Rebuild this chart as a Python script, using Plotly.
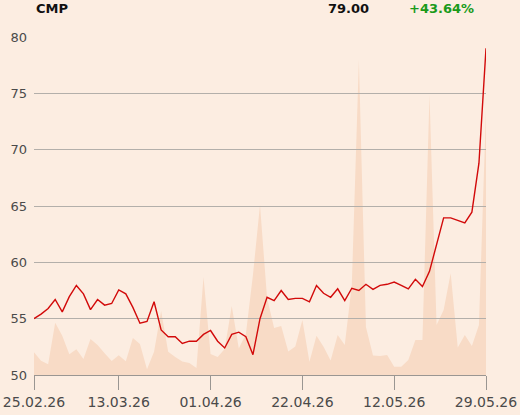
import pandas as pd
import plotly.graph_objects as go

# trading days 25.02.26 - 29.05.26 (no session on Good Friday, Easter Monday, 1 May)
holidays = ["2026-04-03", "2026-04-06", "2026-05-01"]
days = pd.bdate_range("2026-02-25", "2026-05-29")
days = days[~days.isin(pd.to_datetime(holidays))]
dates = [d.strftime("%d.%m.%y") for d in days]

price = [
    55.0, 55.4, 55.9, 56.7, 55.6, 56.95, 57.95, 57.2, 55.8, 56.7,
    56.2, 56.35, 57.55, 57.2, 56.0, 54.6, 54.75, 56.5, 54.0, 53.4,
    53.4, 52.8, 53.0, 53.0, 53.6, 53.95, 53.0, 52.4, 53.6, 53.8,
    53.4, 51.8, 55.0, 56.9, 56.6, 57.5, 56.7, 56.8, 56.8, 56.5,
    57.95, 57.25, 56.9, 57.65, 56.6, 57.7, 57.5, 58.05, 57.6, 57.95,
    58.05, 58.25, 57.95, 57.65, 58.5, 57.85, 59.2, 61.7, 63.95, 63.95,
    63.75, 63.5, 64.45, 68.8, 79.0,
]

# volume, thousand shares
volume = [
    22.7, 14.3, 10.7, 52.3, 39.3, 20.7, 25.7, 16.0, 36.0, 30.0,
    21.7, 14.0, 19.7, 13.7, 37.0, 31.0, 5.7, 23.3, 64.0, 23.3,
    18.0, 13.5, 12.0, 7.0, 98.0, 21.0, 18.0, 26.0, 69.0, 26.5,
    41.0, 100.0, 170.0, 77.0, 47.0, 49.0, 23.5, 28.5, 55.0, 13.3,
    39.3, 28.3, 14.5, 40.0, 30.0, 90.0, 315.0, 48.0, 19.5, 19.0,
    20.0, 8.3, 8.3, 15.0, 35.0, 35.0, 280.0, 50.0, 65.0, 101.7,
    27.5, 40.0, 29.0, 50.0, 265.0,
]

tick_dates = ["25.02.26", "13.03.26", "01.04.26", "22.04.26", "12.05.26", "29.05.26"]

name = "CMP"
last = price[-1]
change = (price[-1] / price[0] - 1) * 100

bg = "#fcede1"
grey = "#b3afaa"
font = "DejaVu Sans"

fig = go.Figure()

# volume in the lower subplot so the price grid sits on top of it
fig.add_trace(go.Scatter(
    x=dates, y=volume, xaxis="x", yaxis="y",
    mode="lines", line=dict(width=0), fill="tozeroy",
    fillcolor="#f8dbc6", hoverinfo="skip", showlegend=False,
))

fig.add_trace(go.Scatter(
    x=dates, y=price, xaxis="x2", yaxis="y2",
    mode="lines", line=dict(color="#d20a0a", width=1.4),
    showlegend=False,
))

fig.update_layout(
    width=520, height=415,
    margin=dict(l=34, r=34, t=37, b=40),
    paper_bgcolor=bg,
    plot_bgcolor="rgba(0,0,0,0)",
    font=dict(family=font, color="#4a4a4a"),
    xaxis=dict(type="category", range=[0, len(dates) - 1], visible=False),
    yaxis=dict(range=[0, 338], visible=False),
    xaxis2=dict(
        type="category", anchor="y2", range=[0, len(dates) - 1],
        tickmode="array", tickvals=tick_dates, automargin=False,
        showgrid=False, showline=True, linecolor="#9a9692", linewidth=1,
        ticks="outside", ticklen=14, tickcolor="#9a9692", tickwidth=1,
        tickfont=dict(size=14, color="#4a4a4a"),
    ),
    yaxis2=dict(
        anchor="x2", range=[50, 80], dtick=5, automargin=False,
        showgrid=True, gridcolor=grey, gridwidth=1,
        zeroline=False, showline=False, ticks="", ticklabelstandoff=6,
        tickfont=dict(size=13, color="#4a4a4a"),
    ),
)

ann = dict(xref="paper", yref="paper", y=1.083, yanchor="middle",
           showarrow=False, font=dict(family=font, size=13, color="#111111"))
fig.add_annotation(ann, x=0.0, xanchor="left", text=f"<b>{name}</b>")
fig.add_annotation(ann, x=0.745, xanchor="right", text=f"<b>{last:.2f}</b>")
fig.add_annotation(ann, x=0.978, xanchor="right", text=f"<b>{change:+.2f}%</b>",
                   font=dict(family=font, size=13, color="#1a9a1a"))

# the page body has an 8px default margin; drop it so the chart fills the window
fig.write_html("out.html", config={"displayModeBar": False},
               post_script=f"document.body.style.margin='0';"
                           f"document.body.style.background='{bg}';")
